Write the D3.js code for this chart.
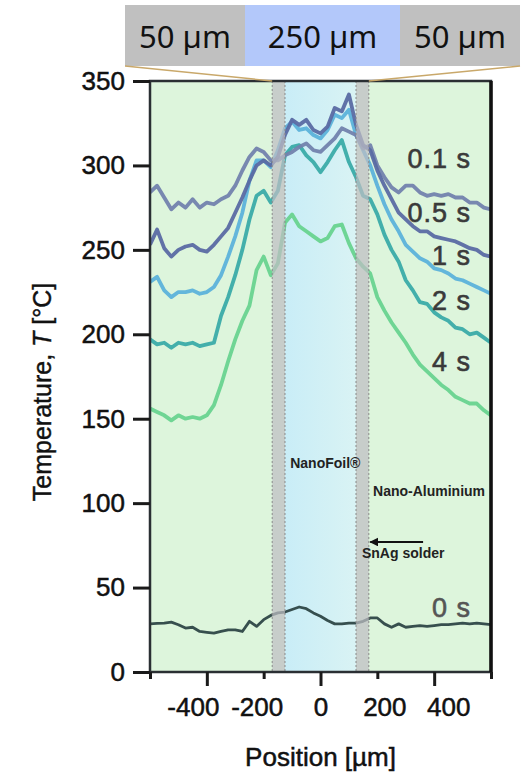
<!DOCTYPE html>
<html>
<head>
<meta charset="utf-8">
<script src="https://cdn.jsdelivr.net/npm/d3@7/dist/d3.min.js"></script>
<style>
  body { margin: 0; background: #fff; }
  text { font-family: "Liberation Sans", Arial, sans-serif; }
</style>
</head>
<body>
<div id="chart"></div>
<script>
// Positions along the joint [µm]
const positions = [-600, -575, -550, -525, -500, -475, -450, -425, -400, -375,
  -350, -325, -300, -275, -250, -225, -200, -175, -150, -125,
  -100, -75, -50, -25, 0, 25, 50, 75, 100, 125,
  150, 175, 200, 225, 250, 275, 300, 325, 350, 375,
  400, 425, 450, 475, 500, 525, 550, 575, 600];

// Temperature profiles [°C]
const t4 = [156, 154, 152, 149, 152, 150, 151, 150, 152, 158,
  170, 184, 197, 208, 217, 238, 246, 235, 242, 266,
  271, 264, 261, 258, 255, 257, 264, 265, 254, 245,
  240, 236, 222, 214, 207, 201, 195, 188, 182, 178,
  174, 170, 167, 163, 161, 159, 159, 155, 152];
const t2 = [197, 194, 195, 192, 195, 194, 195, 193, 194, 195,
  211, 222, 235, 250, 268, 282, 285, 278, 285, 306,
  311, 312, 306, 302, 296, 302, 309, 315, 302, 293,
  282, 280, 271, 259, 250, 243, 232, 226, 219, 218,
  213, 210, 208, 204, 203, 200, 201, 198, 195];
const t1 = [231, 234, 226, 222, 225, 225, 226, 224, 225, 228,
  235, 246, 258, 272, 291, 303, 303, 299, 309, 322,
  326, 321, 322, 318, 316, 321, 330, 328, 333, 318,
  309, 300, 288, 277, 268, 261, 253, 249, 245, 243,
  239, 238, 236, 233, 232, 230, 228, 226, 224];
const t01 = [284, 288, 281, 274, 278, 275, 280, 275, 278, 277,
  280, 282, 288, 297, 305, 310, 308, 303, 303, 306,
  308, 311, 313, 309, 308, 312, 316, 322, 320, 318,
  310, 312, 300, 293, 287, 284, 288, 288, 284, 282,
  283, 282, 283, 281, 281, 278, 278, 275, 274];
const t05 = [253, 262, 251, 246, 250, 252, 253, 250, 249, 253,
  258, 263, 272, 281, 291, 300, 303, 300, 305, 318,
  327, 324, 327, 321, 319, 323, 334, 332, 342, 324,
  312, 309, 297, 288, 280, 272, 268, 264, 261, 261,
  258, 257, 256, 255, 253, 251, 250, 247, 246];
const t0 = [28.5, 28.8, 29, 29.5, 28, 26, 26.5, 24, 23.5, 23,
  24, 25, 25, 24, 30, 27, 31, 33.5, 35, 35.5,
  37, 38.5, 37.5, 35, 33, 30.5, 28.5, 28.5, 29, 29,
  30, 32, 32, 28.5, 26.5, 28.5, 26.5, 27, 27.5, 27,
  27.5, 28, 28, 28.5, 29, 28.5, 29, 28.5, 28];

const seriesNames = ["4 s", "2 s", "1 s", "0.1 s", "0.5 s", "0 s"];
const seriesValues = [t4, t2, t1, t01, t05, t0];
const seriesColors = ["#68d38f", "#3aaba8", "#5cb2da", "#7282ad", "#5a6aa3", "#2d4646"];
// label anchor temperatures (right aligned at 530 µm)
const labelTemps = [184, 220, 247, 304, 272, 38.5];

// layers: [from, to] in µm
const solderBands = [[-170, -125], [125, 170]];
const foilBand = [-125, 125];

const xTicks = [-600, -400, -200, 0, 200, 400, 600];
const yTicks = [0, 50, 100, 150, 200, 250, 300, 350];
const headerLabels = ["50 µm", "250 µm", "50 µm"];

const W = 524, H = 776;
const margin = { top: 81, right: 33, bottom: 104, left: 150 };
const width = W - margin.left - margin.right;
const height = H - margin.top - margin.bottom;

const svg = d3.select("#chart").append("svg")
  .attr("width", W)
  .attr("height", H);

const defs = svg.append("defs");
const grad = defs.append("linearGradient").attr("id", "foil")
  .attr("x1", "0").attr("x2", "1").attr("y1", "0").attr("y2", "0");
grad.append("stop").attr("offset", "0%").attr("stop-color", "#c9edf7");
grad.append("stop").attr("offset", "100%").attr("stop-color", "#d9f3f4");
defs.append("clipPath").attr("id", "clip").append("rect")
  .attr("width", width).attr("height", height);

const x = d3.scaleLinear().domain([-600, 600]).range([0, width]);
const y = d3.scaleLinear().domain([0, 350]).range([height, 0]);

// header boxes
const header = svg.append("g").attr("transform", "translate(125,5)");
const headerW = [120, 155, 120];
let hx = 0;
headerLabels.forEach(function(t, i) {
  header.append("rect")
    .attr("x", hx).attr("y", 0)
    .attr("width", headerW[i]).attr("height", 61)
    .attr("fill", i === 1 ? "#b3c8fa" : "#c0c0c0");
  header.append("text")
    .attr("x", hx + headerW[i] / 2).attr("y", 43)
    .attr("text-anchor", "middle")
    .style("font-family", "'Noto Sans', 'Open Sans', sans-serif")
    .style("font-size", "31px")
    .attr("fill", "#111")
    .text(t);
  hx += headerW[i];
});

const g = svg.append("g")
  .attr("transform", "translate(" + margin.left + "," + margin.top + ")");

// backgrounds
g.append("rect").attr("width", width).attr("height", height).attr("fill", "#ddf5dc");
g.append("rect")
  .attr("x", x(foilBand[0])).attr("width", x(foilBand[1]) - x(foilBand[0]))
  .attr("height", height).attr("fill", "url(#foil)");

// curves
const line = d3.line()
  .x(function(d, i) { return x(positions[i]); })
  .y(function(d) { return y(d); });

const curves = g.append("g").attr("clip-path", "url(#clip)");
seriesValues.forEach(function(vals, i) {
  curves.append("path")
    .datum(vals)
    .attr("d", line)
    .attr("fill", "none")
    .attr("stroke", seriesColors[i])
    .attr("stroke-width", i === 5 ? 2.8 : 3.8)
    .attr("stroke-linejoin", "round")
    .attr("opacity", 0.95);
});

// solder layers over the curves
solderBands.forEach(function(b) {
  g.append("rect")
    .attr("x", x(b[0])).attr("width", x(b[1]) - x(b[0]))
    .attr("height", height)
    .attr("fill", "#bebec4").attr("opacity", 0.72);
});
[solderBands[0][0], solderBands[0][1], solderBands[1][0], solderBands[1][1]].forEach(function(v) {
  g.append("line")
    .attr("x1", x(v)).attr("x2", x(v))
    .attr("y1", 0).attr("y2", height)
    .attr("stroke", "#8a8a8a").attr("stroke-width", 1)
    .attr("stroke-dasharray", "2,2");
});

// connector lines from header
svg.append("line")
  .attr("x1", 125).attr("y1", 66)
  .attr("x2", margin.left + x(solderBands[0][0])).attr("y2", margin.top)
  .attr("stroke", "#c9a86a").attr("stroke-width", 1.5);
svg.append("line")
  .attr("x1", 520).attr("y1", 66)
  .attr("x2", margin.left + x(solderBands[1][1])).attr("y2", margin.top)
  .attr("stroke", "#c9a86a").attr("stroke-width", 1.5);

// frame
g.append("rect").attr("width", width).attr("height", height)
  .attr("fill", "none").attr("stroke", "#2a2f33").attr("stroke-width", 2.5);
g.append("line").attr("x1", width).attr("x2", width).attr("y1", 0).attr("y2", height)
  .attr("stroke", "#111").attr("stroke-width", 3.5);

// axes
const xAxis = g.append("g")
  .attr("transform", "translate(0," + height + ")")
  .call(d3.axisBottom(x)
    .tickValues(xTicks)
    .tickSize(14)
    .tickPadding(12)
    .tickFormat(function(d) { return Math.abs(d) === 600 ? "" : String(d); }));
xAxis.select(".domain").remove();
xAxis.selectAll(".tick line")
  .attr("stroke", "#1a1a1a").attr("stroke-width", 3)
  .attr("y2", function(d) { return d % 400 === 0 && Math.abs(d) !== 600 ? 14 : 7; });
xAxis.selectAll(".tick text")
  .attr("dx", function(d) { return d * 0.035; })
  .style("font-size", "26px").attr("fill", "#111")
  .attr("stroke", "#111").attr("stroke-width", 0.5);

const yAxis = g.append("g")
  .call(d3.axisLeft(y)
    .tickValues(yTicks)
    .tickSize(17)
    .tickPadding(8));
yAxis.select(".domain").remove();
yAxis.selectAll(".tick line").attr("stroke", "#1a1a1a").attr("stroke-width", 3);
yAxis.selectAll(".tick text").style("font-size", "26px").attr("fill", "#111")
  .attr("stroke", "#111").attr("stroke-width", 0.5);

// axis titles
svg.append("text")
  .attr("x", margin.left + x(0)).attr("y", 766)
  .attr("text-anchor", "middle")
  .style("font-size", "26px").attr("fill", "#111")
  .attr("stroke", "#111").attr("stroke-width", 0.5)
  .text("Position [µm]");

const yt = svg.append("text")
  .attr("transform", "translate(51,392) rotate(-90)")
  .attr("text-anchor", "middle")
  .style("font-size", "25px").attr("fill", "#111")
  .attr("stroke", "#111").attr("stroke-width", 0.4);
yt.append("tspan").text("Temperature, ");
yt.append("tspan").style("font-style", "italic").text("T");
yt.append("tspan").text(" [°C]");

// series labels
seriesNames.forEach(function(n, i) {
  g.append("text")
    .attr("x", x(530)).attr("y", y(labelTemps[i]))
    .attr("dy", "0.36em")
    .attr("text-anchor", "end")
    .style("font-size", "27px")
    .style("letter-spacing", "1px")
    .attr("fill", i === 5 ? "#555" : "#3a3a3a")
    .attr("stroke", i === 5 ? "#555" : "#3a3a3a").attr("stroke-width", 0.6)
    .text(n);
});

// layer annotations
g.append("text")
  .attr("x", x(17)).attr("y", y(121))
  .attr("text-anchor", "middle")
  .style("font-size", "14px").style("font-weight", "bold").attr("fill", "#222")
  .text("NanoFoil®");
g.append("text")
  .attr("x", x(185)).attr("y", y(104))
  .style("font-size", "14px").style("font-weight", "bold").attr("fill", "#222")
  .text("Nano-Aluminium");
g.append("text")
  .attr("x", x(146)).attr("y", y(67.5))
  .style("font-size", "14px").style("font-weight", "bold").attr("fill", "#222")
  .text("SnAg solder");

defs.append("marker").attr("id", "arrow")
  .attr("viewBox", "0 0 10 10").attr("refX", 9).attr("refY", 5)
  .attr("markerWidth", 5).attr("markerHeight", 5).attr("orient", "auto")
  .append("path").attr("d", "M0,0 L10,5 L0,10 Z").attr("fill", "#111");
g.append("line")
  .attr("x1", x(361)).attr("x2", x(175))
  .attr("y1", y(77)).attr("y2", y(77))
  .attr("stroke", "#111").attr("stroke-width", 1.8)
  .attr("marker-end", "url(#arrow)");
</script>
</body>
</html>
